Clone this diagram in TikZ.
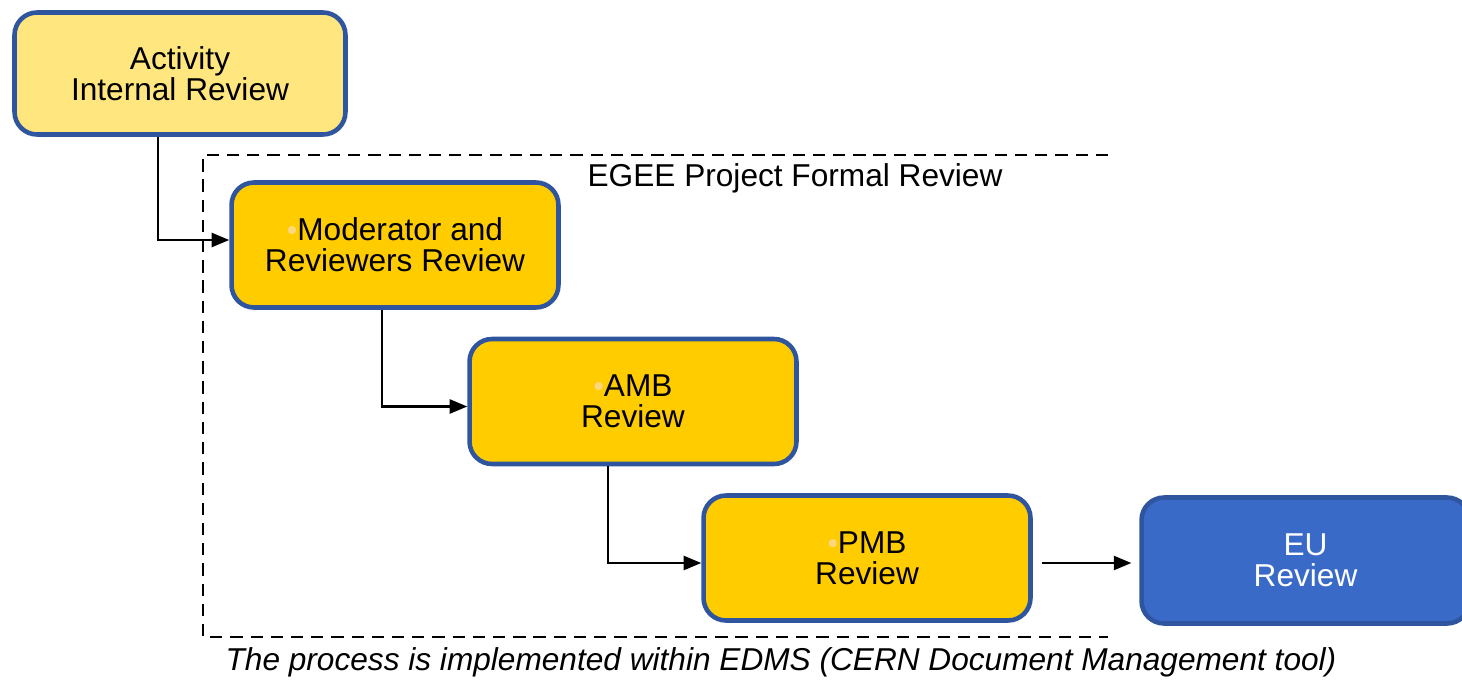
\documentclass[tikz,border=0pt]{standalone}
\usepackage{fontspec}
\setmainfont{Liberation Sans}
\usetikzlibrary{arrows.meta}
\definecolor{paleyel}{HTML}{FFE67F}
\definecolor{gold}{HTML}{FFCC00}
\definecolor{edgeblue}{HTML}{2F559E}
\definecolor{eublue}{HTML}{3A6AC8}
\definecolor{bulletc}{HTML}{FFD77F}
\newcommand{\bul}{{\color{bulletc}\fontsize{17}{17}\selectfont•}}
\begin{document}
\begin{tikzpicture}[x=0.02cm,y=-0.02cm,
        review/.style={draw=edgeblue,line width=2.6pt,rounded corners=0.45cm,
            fill=gold,minimum width=6.54cm,minimum height=2.5cm,inner sep=0pt,
            align=center,font=\fontsize{18}{17.6}\selectfont},
        flow/.style={-{Triangle[length=10pt,width=8pt]},line width=1.3pt},
        frame/.style={dashed,line width=1.3pt,dash pattern=on 7pt off 4.5pt}]
\useasboundingbox (0,0) rectangle (1462,679);

\node[review,fill=paleyel,minimum width=6.62cm,minimum height=2.44cm]
    (act) at (180,73.5) {Activity\\Internal Review};
\node[review] (mod) at (395,245) {\bul Moderator and\\Reviewers Review};
\node[review] (amb) at (633,401.5) {\bul AMB\\Review};
\node[review] (pmb) at (867,558) {\bul PMB\\Review};
\node[review,fill=eublue,text=white,minimum width=6.56cm,minimum height=2.52cm]
    (eu) at (1305.5,560.5) {EU\\Review};

% formal review frame, open on the right
\draw[frame] (1108,155) -- (203,155) -- (203,637) -- (1108,637);
\node[font=\fontsize{18}{18}\selectfont] (formal) at (795,178) {EGEE Project Formal Review};

\draw[flow] ([xshift=-0.44cm]act.south) |- ([yshift=0.1cm]mod.west);
\draw[flow] ([xshift=-0.26cm]mod.south) |- ([yshift=-0.1cm]amb.west);
\draw[flow] ([xshift=-0.5cm]amb.south) |- ([yshift=-0.1cm]pmb.west);
\draw[flow,shorten <=5pt,shorten >=4.5pt] ([yshift=-0.1cm]pmb.east) -- ([yshift=-0.1cm]pmb.east -| eu.west);

\node[font=\fontsize{18}{18}\selectfont\itshape] (note) at (781,662)
    {The process is implemented within EDMS (CERN Document Management tool)};
\end{tikzpicture}
\end{document}
